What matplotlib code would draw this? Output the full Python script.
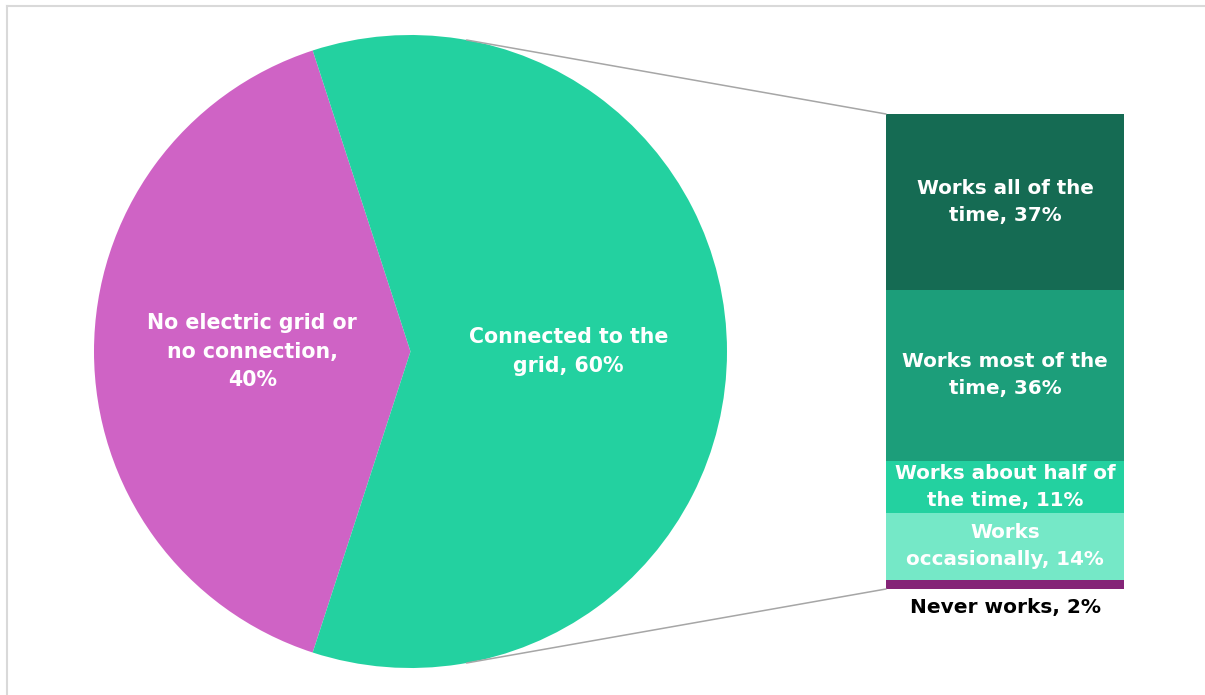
import matplotlib
matplotlib.use("Agg")
import matplotlib.pyplot as plt
from matplotlib.patches import ConnectionPatch
from matplotlib.lines import Line2D
import numpy as np

pie_labels = ["No electric grid or\nno connection,\n40%", "Connected to the\ngrid, 60%"]
pie_values = [40, 60]
pie_colors = ["#CF63C5", "#23D1A0"]

bar_labels = ["Never works, 2%", "Works\noccasionally, 14%", "Works about half of\nthe time, 11%",
              "Works most of the\ntime, 36%", "Works all of the\ntime, 37%"]
bar_values = [2, 14, 11, 36, 37]
bar_colors = ["#842477", "#75E8C7", "#23D1A0", "#1C9E7A", "#156B53"]

W, H = 1205, 695
FONT = ["DejaVu Sans"]

fig = plt.figure(figsize=(W / 100, H / 100), dpi=100)
fig.patch.set_facecolor("white")

# Pie axes
cx, cy, r = 410.5, H - 351.5, 316.5
ax_pie = fig.add_axes([(cx - r) / W, (cy - r) / H, 2 * r / W, 2 * r / H])
wedges, texts = ax_pie.pie(pie_values, colors=pie_colors, startangle=108, counterclock=True,
                           labels=pie_labels, labeldistance=0.5, radius=1,
                           wedgeprops=dict(linewidth=0),
                           textprops=dict(color="white", fontsize=14.8, fontweight="bold", family=FONT))
for t in texts:
    t.set_ha("center")
    t.set_va("center")
    t.set_multialignment("center")
    t.set_linespacing(1.55)
ax_pie.set_xlim(-1, 1)
ax_pie.set_ylim(-1, 1)
ax_pie.set_aspect("equal")
ax_pie.axis("off")

# Bar axes
bx0, bx1 = 886, 1124
by_top, by_bot = 114, 589
ax_bar = fig.add_axes([bx0 / W, (H - by_bot) / H, (bx1 - bx0) / W, (by_bot - by_top) / H])
bottoms = np.concatenate([[0], np.cumsum(bar_values)[:-1]])
ax_bar.bar([0] * len(bar_values), bar_values, bottom=bottoms, width=1.0, color=bar_colors, linewidth=0)
ax_bar.set_xlim(-0.5, 0.5)
ax_bar.set_ylim(0, sum(bar_values))
ax_bar.axis("off")
for i, (lab, v, b) in enumerate(zip(bar_labels, bar_values, bottoms)):
    if i == 0:
        ax_bar.annotate(lab, xy=(0, 0), xytext=(0, -19), textcoords="offset pixels",
                        ha="center", va="center", fontsize=14.5, fontweight="bold",
                        color="black", family=FONT, annotation_clip=False)
    else:
        ax_bar.text(0, b + v / 2, lab, ha="center", va="center", fontsize=14.3,
                    fontweight="bold", color="white", family=FONT, linespacing=1.55,
                    multialignment="center")

# Connector lines
ang = np.deg2rad(79.8)
for sgn, ytarget in [(1, sum(bar_values)), (-1, 0)]:
    con = ConnectionPatch(xyA=(np.cos(ang), sgn * np.sin(ang)), coordsA=ax_pie.transData,
                          xyB=(-0.5, ytarget), coordsB=ax_bar.transData,
                          color="#A6A6A6", linewidth=1.1)
    fig.add_artist(con)

# Border
fig.add_artist(Line2D([6.5 / W, 6.5 / W], [0, 1 - 5.5 / H], transform=fig.transFigure,
                      color="#D9D9D9", linewidth=1.5))
fig.add_artist(Line2D([6.5 / W, 1], [1 - 5.5 / H, 1 - 5.5 / H], transform=fig.transFigure,
                      color="#D9D9D9", linewidth=1.5))

fig.savefig("out.png", dpi=100, facecolor="white")
